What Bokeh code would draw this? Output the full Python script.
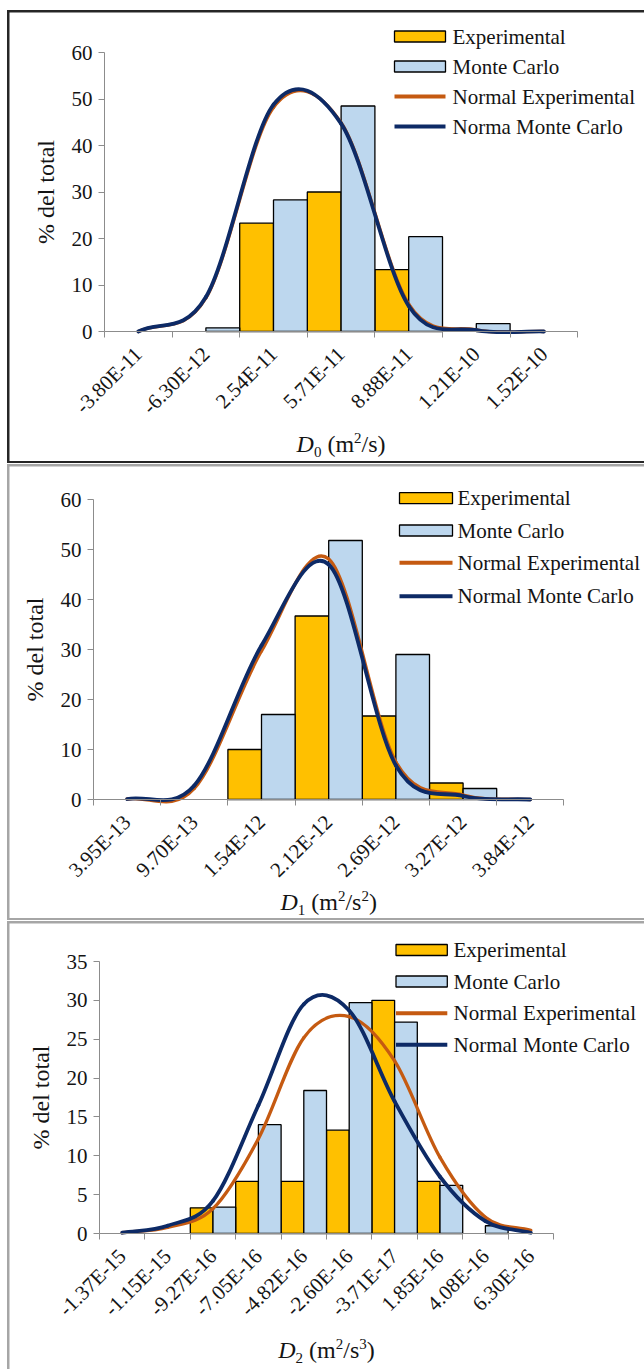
import math

from bokeh.core.properties import value
from bokeh.embed import file_html
from bokeh.layouts import column
from bokeh.models import FixedTicker, Range1d
from bokeh.plotting import figure
from bokeh.resources import INLINE

SERIF = "Liberation Serif"
EXP_FILL = "#FFC000"
MC_FILL = "#BDD7EE"
EXP_LINE = "#C55A11"
MC_LINE = "#0D2A66"
AXIS_GRAY = "#8C8C8C"
TEXT = "#141414"

# ---- D0 histogram (% of total per class) ----
d0_labels = ["-3.80E-11", "-6.30E-12", "2.54E-11", "5.71E-11", "8.88E-11", "1.21E-10", "1.52E-10"]
d0_exp = [0, 0, 23.3, 30.0, 13.3, 0, 0]
d0_mc = [0, 0.8, 28.3, 48.5, 20.4, 1.7, 0]
d0_norm_exp = [0, 7.2, 48.2, 44.9, 5.9, 0.35, 0]
d0_norm_mc = [0, 7.4, 48.8, 44.7, 5.5, 0.3, 0]

# ---- D1 histogram ----
d1_labels = ["3.95E-13", "9.70E-13", "1.54E-12", "2.12E-12", "2.69E-12", "3.27E-12", "3.84E-12"]
d1_exp = [0, 0, 10.0, 36.7, 16.7, 3.3, 0]
d1_mc = [0, 0, 17.0, 51.8, 29.0, 2.2, 0]
d1_norm_exp = [0.1, 2.2, 29.7, 48.1, 7.5, 0.9, 0]
d1_norm_mc = [0.1, 2.8, 30.8, 47.0, 6.8, 0.7, 0]

# ---- D2 histogram ----
d2_labels = ["-1.37E-15", "-1.15E-15", "-9.27E-16", "-7.05E-16", "-4.82E-16",
             "-2.60E-16", "-3.71E-17", "1.85E-16", "4.08E-16", "6.30E-16"]
d2_exp = [0, 0, 3.3, 6.7, 6.7, 13.3, 30.0, 6.7, 0, 0]
d2_mc = [0, 0, 3.4, 14.0, 18.4, 29.7, 27.2, 6.2, 1.0, 0]
d2_norm_exp = [0.1, 0.8, 3.2, 12.2, 25.2, 27.9, 22.2, 9.8, 2.1, 0.4]
d2_norm_mc = [0.1, 1.0, 4.2, 16.5, 29.5, 28.7, 17.0, 7.3, 1.6, 0.1]

legend_d0 = ["Experimental", "Monte Carlo", "Normal Experimental", "Norma Monte Carlo"]
legend_d12 = ["Experimental", "Monte Carlo", "Normal Experimental", "Normal Monte Carlo"]

# advance widths (em) of Times-metric glyphs used in the axis titles
ADV = {"D": 0.722, " ": 0.25, "(": 0.333, ")": 0.333, "m": 0.778, "/": 0.278,
       "s": 0.389, "0": 0.5, "1": 0.5, "2": 0.5, "3": 0.5}

TICK_FONT = "21px"
LEGEND_FONT = "21px"
TITLE_SIZE = 24
SCRIPT_SIZE = 15
WIDTH = 635


def text_width(s, size):
    return sum(ADV[c] for c in s) * size


def smooth_segments(vals):
    """Cubic Bezier segments through the class-centre points (smoothed line)."""
    n = len(vals)
    xs = [i + 0.5 for i in range(n)]
    tang = []
    for i in range(n):
        if i == 0:
            tang.append(vals[1] - vals[0])
        elif i == n - 1:
            tang.append(vals[-1] - vals[-2])
        else:
            tang.append((vals[i + 1] - vals[i - 1]) / 2)
    return dict(
        x0=xs[:-1], y0=vals[:-1], x1=xs[1:], y1=vals[1:],
        cx0=[x + 1 / 3 for x in xs[:-1]],
        cy0=[v + m / 3 for v, m in zip(vals[:-1], tang[:-1])],
        cx1=[x - 1 / 3 for x in xs[1:]],
        cy1=[v - m / 3 for v, m in zip(vals[1:], tang[1:])],
    )


def title_parts(sub, sup):
    # (text, style, size, baseline shift px, gap before px)
    parts = [("D", "italic", TITLE_SIZE, 0, 0),
             (sub, "normal", SCRIPT_SIZE, -5, 0),
             ("(m", "normal", TITLE_SIZE, 0, ADV[" "] * TITLE_SIZE),
             ("2", "normal", SCRIPT_SIZE, 9, 0),
             ("/s", "normal", TITLE_SIZE, 0, 0)]
    if sup:
        parts.append((sup, "normal", SCRIPT_SIZE, 9, 0))
    parts.append((")", "normal", TITLE_SIZE, 0, 0))
    return parts


def make_panel(labels, exp, mc, norm_exp, norm_mc, y_max, y_step, geo, names, title):
    h = geo["h"]
    L, axis_y = geo["left"], geo["axis_y"]
    cat_px, unit_px = geo["cat_px"], geo["unit_px"]
    n = len(labels)

    # the frame fills the whole canvas; axes sit at the data origin
    p = figure(width=WIDTH, height=h,
               x_range=Range1d(-L / cat_px, (WIDTH - L) / cat_px),
               y_range=Range1d(-(h - axis_y) / unit_px, axis_y / unit_px),
               output_backend="svg", toolbar_location=None, min_border=0,
               background_fill_color="white", border_fill_color="white")
    p.outline_line_color = None
    p.xgrid.visible = False
    p.ygrid.visible = False

    def dx(cx):
        return (cx - L) / cat_px

    def dy(cy):
        return (axis_y - cy) / unit_px

    # x axis: labels at class centres, tick marks at class boundaries
    xa = p.xaxis[0]
    xa.fixed_location = 0
    xa.ticker = FixedTicker(ticks=[i + 0.5 for i in range(n)],
                            minor_ticks=list(range(n + 1)))
    xa.major_label_overrides = {i + 0.5: lab for i, lab in enumerate(labels)}
    xa.bounds = (0, n)
    xa.major_tick_out = 0
    xa.major_tick_in = 0
    xa.minor_tick_out = 6
    xa.minor_tick_in = 0
    xa.minor_tick_line_color = AXIS_GRAY
    xa.axis_line_color = AXIS_GRAY
    xa.major_label_orientation = math.pi / 4
    xa.major_label_standoff = 13
    xa.major_label_text_font = SERIF
    xa.major_label_text_font_size = TICK_FONT
    xa.major_label_text_color = TEXT

    ya = p.yaxis[0]
    ya.fixed_location = 0
    ya.ticker = FixedTicker(ticks=list(range(0, y_max + 1, y_step)))
    ya.bounds = (0, y_max)
    ya.major_tick_out = 6
    ya.major_tick_in = 0
    ya.minor_tick_out = 0
    ya.minor_tick_in = 0
    ya.major_tick_line_color = AXIS_GRAY
    ya.axis_line_color = AXIS_GRAY
    ya.major_label_standoff = 6
    ya.major_label_text_font = SERIF
    ya.major_label_text_font_size = TICK_FONT
    ya.major_label_text_color = TEXT

    # paired bars: experimental on the left half, Monte Carlo on the right half
    ex = [i + 0.25 for i, v in enumerate(exp) if v > 0]
    ey = [v for v in exp if v > 0]
    mx = [i + 0.75 for i, v in enumerate(mc) if v > 0]
    my = [v for v in mc if v > 0]
    p.vbar(x=ex, top=ey, bottom=0, width=0.5, fill_color=EXP_FILL,
           line_color="black", line_width=1.3)
    p.vbar(x=mx, top=my, bottom=0, width=0.5, fill_color=MC_FILL,
           line_color="black", line_width=1.3)

    # smoothed normal curves
    p.bezier(line_color=EXP_LINE, line_width=3.3, line_cap="round",
             **smooth_segments(norm_exp))
    p.bezier(line_color=MC_LINE, line_width=3.8, line_cap="round",
             **smooth_segments(norm_mc))

    # legend
    lg = geo["legend"]
    x0, x1 = dx(lg["x0"]), dx(lg["x1"])
    rows = [dy(r) for r in lg["rows"]]
    pw = lg["x1"] - lg["x0"]
    p.rect(x=[(x0 + x1) / 2], y=[rows[0]], width=pw, height=11,
           width_units="screen", height_units="screen",
           fill_color=EXP_FILL, line_color="black", line_width=1.3)
    p.rect(x=[(x0 + x1) / 2], y=[rows[1]], width=pw, height=11,
           width_units="screen", height_units="screen",
           fill_color=MC_FILL, line_color="black", line_width=1.3)
    p.segment(x0=[x0], y0=[rows[2]], x1=[x1], y1=[rows[2]],
              line_color=EXP_LINE, line_width=4)
    p.segment(x0=[x0], y0=[rows[3]], x1=[x1], y1=[rows[3]],
              line_color=MC_LINE, line_width=4)
    p.text(x=[dx(lg["tx"])] * 4, y=rows, text=names,
           text_font=value(SERIF), text_font_size=LEGEND_FONT,
           text_baseline="middle", text_align="left", text_color=TEXT)

    # y-axis title
    p.text(x=[dx(L - 59)], y=[y_max / 2], text=["% del total"], angle=math.pi / 2,
           text_font=value(SERIF), text_font_size=f"{TITLE_SIZE}px",
           text_align="center", text_baseline="middle", text_color=TEXT)

    # x-axis title: italic symbol with subscript, units with superscripts
    centre = L + n * cat_px / 2
    total = sum(gap + text_width(s, size) for s, _, size, _, gap in title)
    cx = centre - total / 2
    for s, style, size, shift, gap in title:
        cx += gap
        mid = geo["title_base"] - shift - 0.33 * size
        p.text(x=[dx(cx)], y=[dy(mid)], text=[s],
               text_font=value(SERIF), text_font_style=style,
               text_font_size=f"{size}px", text_align="left",
               text_baseline="middle", text_color=TEXT)
        cx += text_width(s, size)
    return p


geo1 = dict(h=449, left=95, axis_y=319, cat_px=67.6, unit_px=279 / 60, title_base=439,
            legend=dict(x0=385, x1=436, tx=443, rows=[24, 54, 84, 114]))
geo2 = dict(h=452, left=84, axis_y=333, cat_px=67.2, unit_px=300 / 60, title_base=443,
            legend=dict(x0=390, x1=443, tx=448, rows=[31.7, 64, 96.3, 129.7]))
geo3 = dict(h=446, left=90, axis_y=310, cat_px=45.4, unit_px=272 / 35, title_base=434,
            legend=dict(x0=386.5, x1=437.8, tx=444, rows=[26.5, 58, 89.7, 121.3]))

p1 = make_panel(d0_labels, d0_exp, d0_mc, d0_norm_exp, d0_norm_mc, 60, 10, geo1,
                legend_d0, title_parts("0", None))
p2 = make_panel(d1_labels, d1_exp, d1_mc, d1_norm_exp, d1_norm_mc, 60, 10, geo2,
                legend_d12, title_parts("1", "2"))
p3 = make_panel(d2_labels, d2_exp, d2_mc, d2_norm_exp, d2_norm_mc, 35, 5, geo3,
                legend_d12, title_parts("2", "3"))


def framed(fig, color, gap, bottom_edge=True):
    # the wrapper's background shows through the figure margins as a frame
    fig.margin = (2, 0, 2 if bottom_edge else 0, 2)
    return column(fig, margin=(gap, 0, 0, 7), styles={"background-color": color})


page = column(framed(p1, "#262626", 10),
              framed(p2, "#A6A6A6", 1),
              framed(p3, "#A6A6A6", 1, bottom_edge=False))

open("out.html", "w").write(file_html(page, INLINE))
